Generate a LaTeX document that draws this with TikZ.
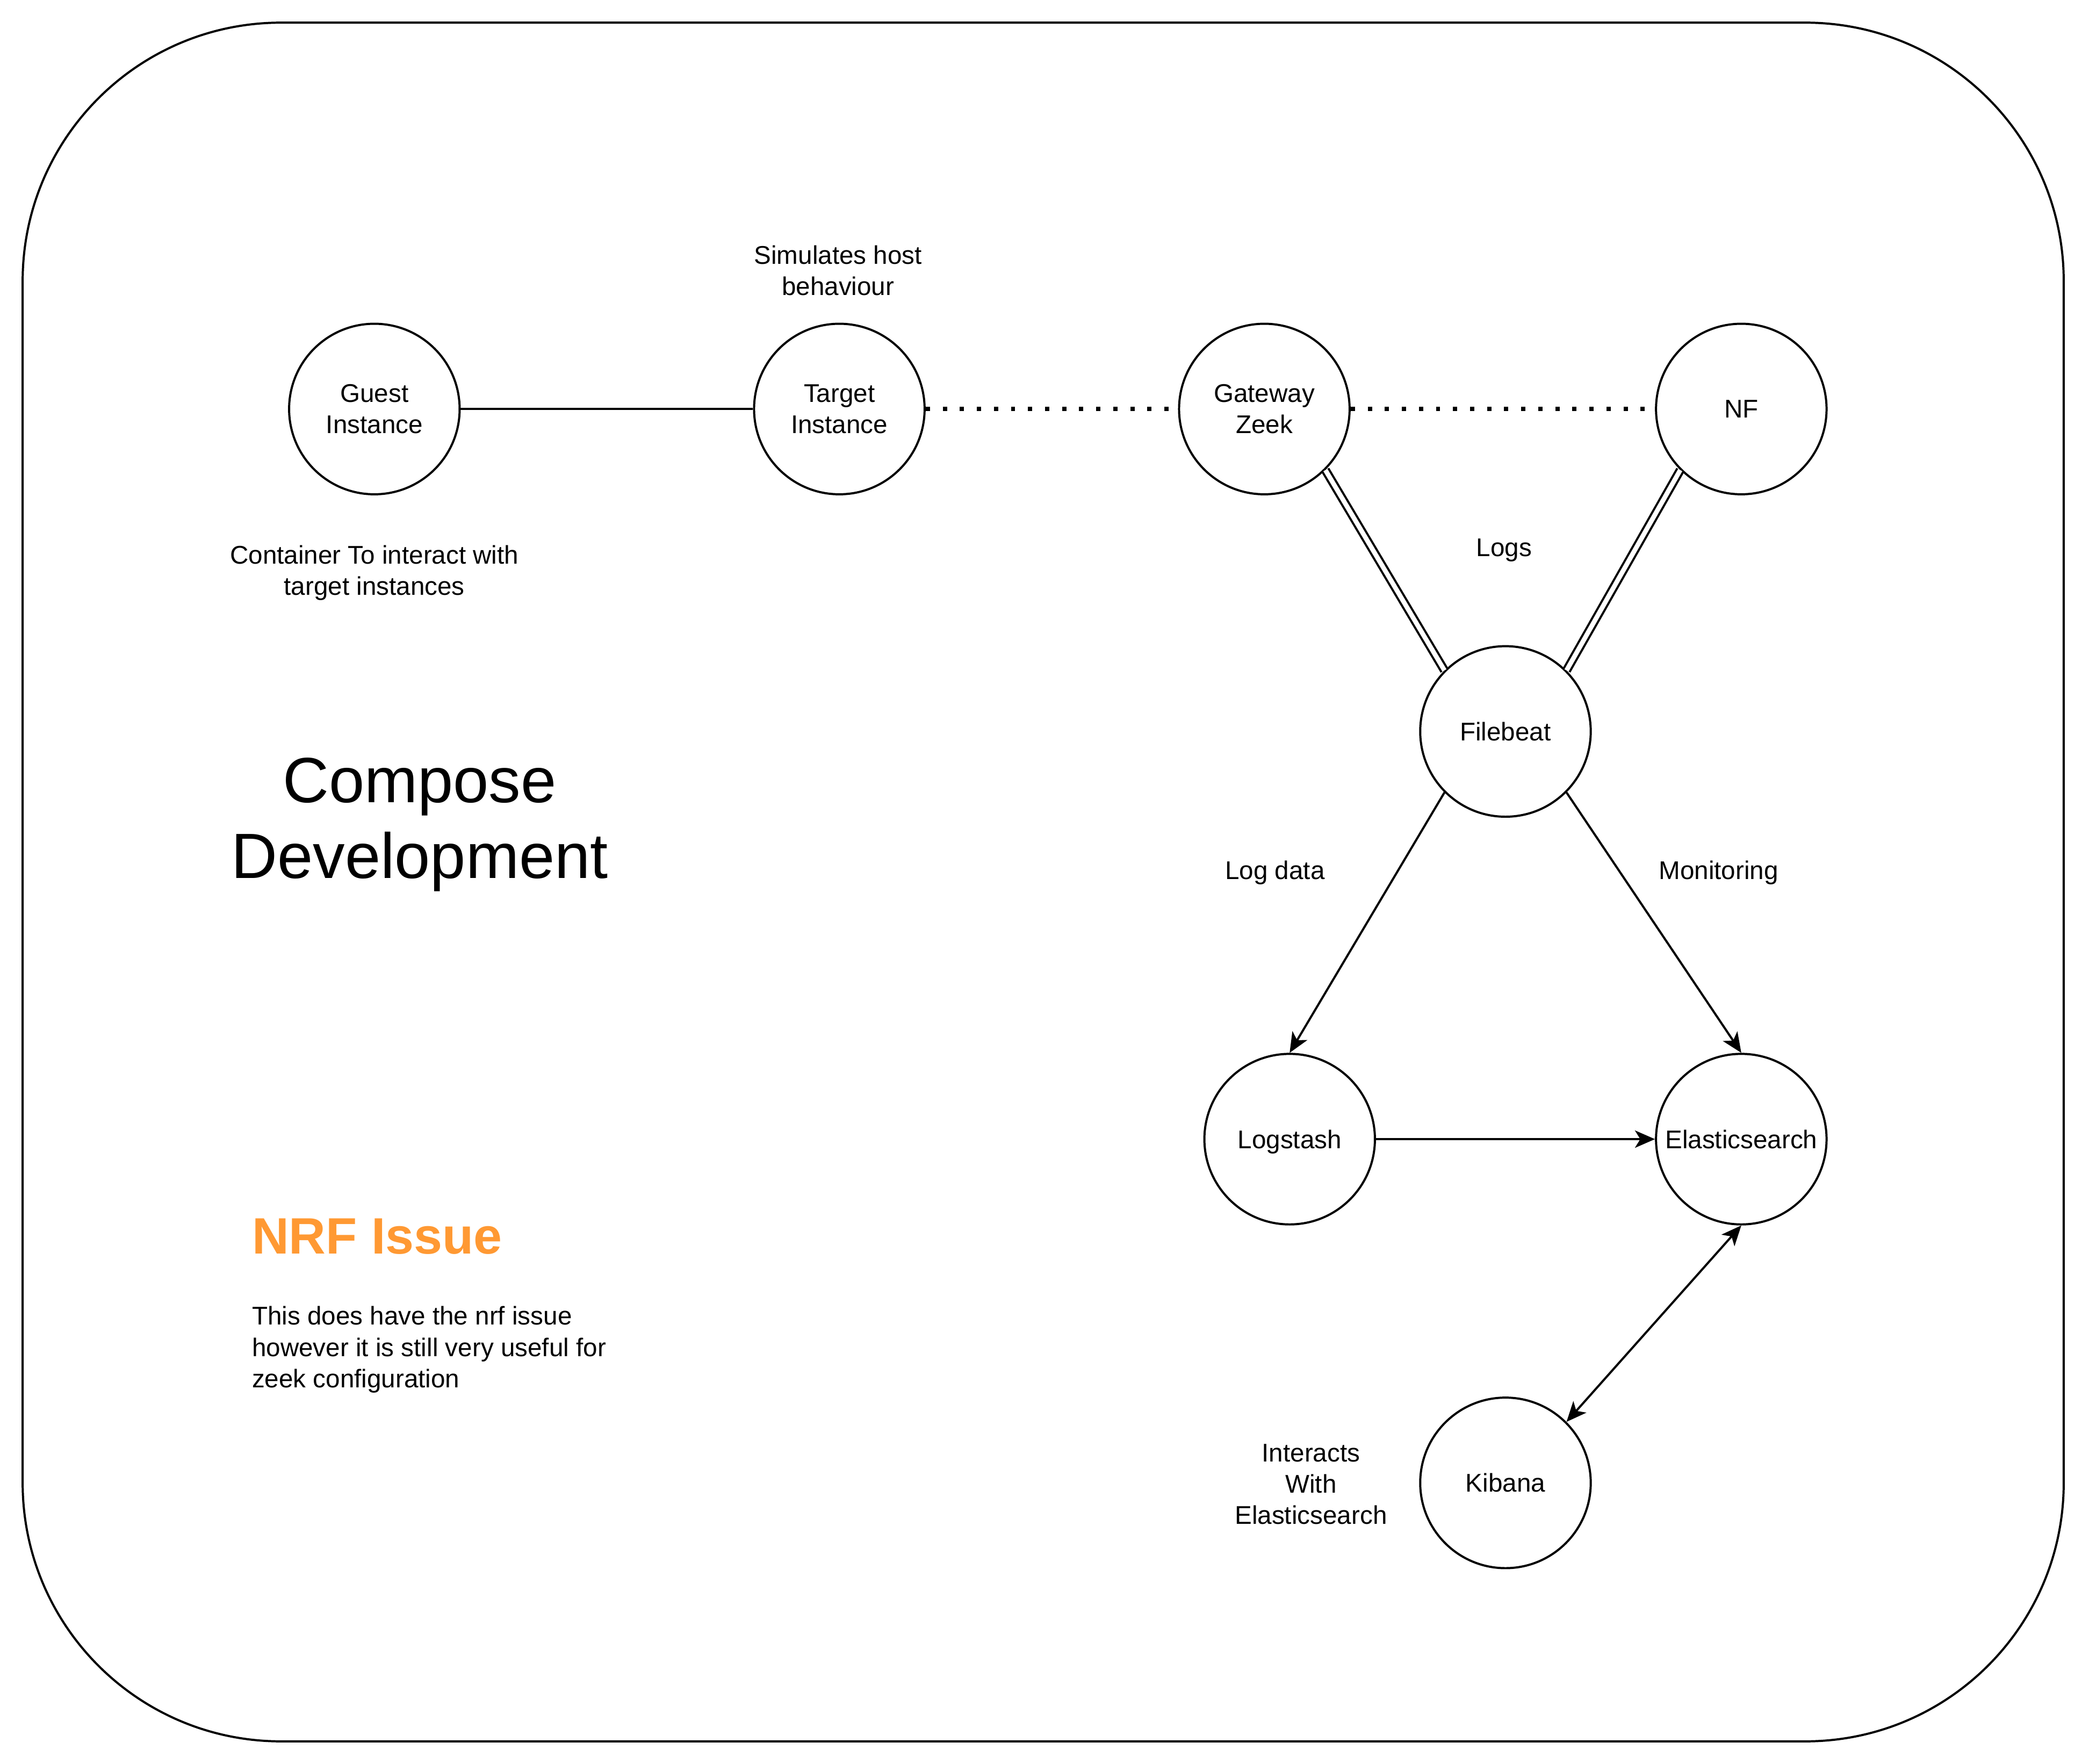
\documentclass[tikz,border=0pt]{standalone}
\usepackage{fontspec}
\setmainfont{Liberation Sans}
\usetikzlibrary{arrows.meta}
\definecolor{nrforange}{HTML}{FF9933}

\begin{document}
\begin{tikzpicture}[x=1pt, y=-1pt,
  every node/.style={font=\fontsize{19.2}{23.5}\selectfont, inner sep=0pt},
  unit/.style={circle, draw, line width=1.6pt, minimum size=128pt, align=center},
  note/.style={align=center},
  wire/.style={line width=1.6pt},
  dots/.style={line width=3.2pt, dash pattern=on 3.2pt off 9.6pt},
  link/.style={line width=1.6pt, double, double distance=3.5pt},
  flow/.style={line width=1.6pt, -{Stealth[length=15pt,width=13pt,inset=4pt]}},
  both/.style={line width=1.6pt, {Stealth[length=15pt,width=13pt,inset=4pt]}-{Stealth[length=15pt,width=13pt,inset=4pt]}}]
\useasboundingbox (0,0) rectangle (1568,1324);
\draw[line width=1.6pt, rounded corners=194pt] (17,17) rectangle (1549,1307);

\node[unit] (guest) at (281,307) {Guest\\Instance};
\node[unit] (target) at (630,307) {Target\\Instance};
\node[unit] (gateway) at (949,307) {Gateway\\Zeek};
\node[unit] (nf) at (1307,307) {NF};
\node[unit] (filebeat) at (1130,549) {Filebeat};
\node[unit, text depth=0pt] (logstash) at (968,855) {Logstash};
\node[unit] (elastic) at (1307,855) {Elasticsearch};
\node[unit] (kibana) at (1130,1113) {Kibana};

\node[note] (simnote) at (629,203) {Simulates host\\behaviour};
\node[note] (guestnote) at (281,430) {Container To interact with\\target instances};
\node (logs) at (1129,413) {Logs};
\node (logdata) at (957,655) {Log data};
\node (monitoring) at (1290,655) {Monitoring};
\node[note] (kibnote) at (984,1114) {Interacts\\With\\Elasticsearch};
\node[note, font=\fontsize{48}{57}\selectfont] (title) at (315,619) {Compose\\Development};
\node[anchor=west, text=nrforange, font=\fontsize{38.4}{46}\selectfont\bfseries] (nrf) at (189,928) {NRF Issue};
\node[anchor=west, align=left] (nrfnote) at (189,1013) {This does have the nrf issue\\however it is still very useful for\\zeek configuration};

\draw[wire] (guest) -- (target);
\draw[dots] (target) -- (gateway);
\draw[dots] (gateway) -- (nf);
\draw[link] (gateway.-45) -- (filebeat.135);
\draw[link] (nf.225) -- (filebeat.45);
\draw[flow] (filebeat.225) -- (logstash.north);
\draw[flow] (filebeat.-45) -- (elastic.north);
\draw[flow] (logstash) -- (elastic);
\draw[both] (kibana.45) -- (elastic.south);
\end{tikzpicture}
\end{document}
